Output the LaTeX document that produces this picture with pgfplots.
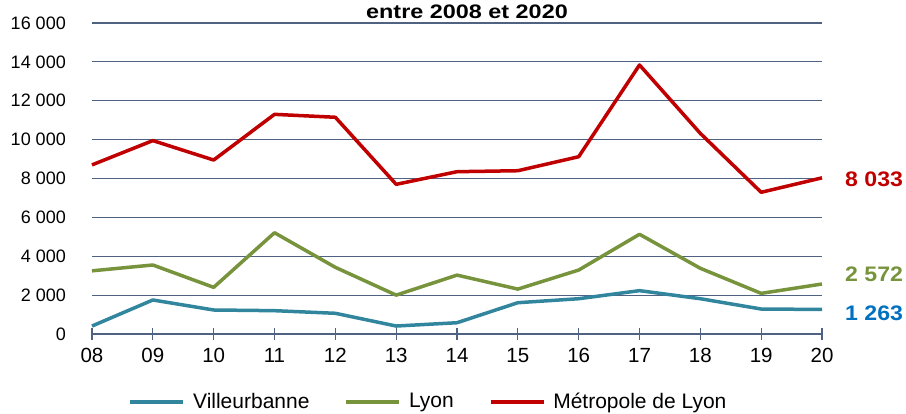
\documentclass[border=0pt]{standalone}
\usepackage{pgfplots}
\pgfplotsset{compat=1.18}
\usepackage{graphicx}
\usepackage{fontspec}
\setmainfont{Liberation Sans}
\definecolor{gridc}{RGB}{79,98,130}
\definecolor{cred}{RGB}{192,0,0}
\definecolor{cgreen}{RGB}{119,147,60}
\definecolor{cteal}{RGB}{49,133,156}
\definecolor{cblue}{RGB}{0,112,192}
\begin{document}
\fontsize{18}{21.6}\selectfont
\begin{tikzpicture}
\begin{axis}[name=ax, scale only axis, width=730pt, height=311pt,
  xmin=0, xmax=12, ymin=0, ymax=16000, clip=false,
  scaled y ticks=false,
  axis lines=left, axis line style={-},
  y axis line style={draw=none},
  x axis line style={draw=gridc, line width=1.3pt},
  ymajorgrids, grid style={gridc, line width=1.1pt},
  ytick={0,2000,4000,6000,8000,10000,12000,14000,16000},
  yticklabels={0,2 000,4 000,6 000,8 000,10 000,12 000,14 000,16 000},
  xtick={0,...,12},
  xticklabels={08,09,10,11,12,13,14,15,16,17,18,19,20},
  ytick style={draw=none},
  xtick style={draw=gridc, line width=1.1pt},
  major tick length=12pt, tick align=center,
  yticklabel style={anchor=east, inner sep=0pt, xshift=-20pt, font=\fontsize{18}{21.6}\selectfont},
  xticklabel style={anchor=north, inner sep=0pt, yshift=-8pt, font=\fontsize{20.5}{24}\selectfont},
  legend columns=3,
  legend style={at={(0.461,-0.219)}, anchor=center, draw=none, fill=none,
    font=\fontsize{21}{25}\selectfont,
    /tikz/every even column/.append style={column sep=33pt}},
  legend image code/.code={\draw[#1] (0pt,0pt) -- (53pt,0pt); \path (59pt,0pt);},
  every axis plot/.append style={line width=3.5pt, line join=round},
]
\addplot[cteal] coordinates {(0,410) (1,1750) (2,1235) (3,1200) (4,1065) (5,410) (6,580) (7,1610) (8,1815) (9,2230) (10,1815) (11,1285) (12,1263)};
\addlegendentry{Villeurbanne}
\addplot[cgreen] coordinates {(0,3250) (1,3550) (2,2400) (3,5210) (4,3430) (5,2000) (6,3030) (7,2310) (8,3290) (9,5130) (10,3380) (11,2090) (12,2572)};
\addlegendentry{Lyon}
\addplot[cred] coordinates {(0,8700) (1,9950) (2,8950) (3,11300) (4,11150) (5,7700) (6,8350) (7,8400) (8,9120) (9,13840) (10,10320) (11,7290) (12,8033)};
\addlegendentry{Métropole de Lyon}
\node[anchor=west, text=cred, font=\fontsize{21}{25}\selectfont\bfseries, inner sep=0pt] at (axis cs:12,7973) [xshift=23pt] {\scalebox{1.1}[1]{8 033}};
\node[anchor=west, text=cgreen, font=\fontsize{21}{25}\selectfont\bfseries, inner sep=0pt] at (axis cs:12,3086) [xshift=23pt] {\scalebox{1.1}[1]{2 572}};
\node[anchor=west, text=cblue, font=\fontsize{21}{25}\selectfont\bfseries, inner sep=0pt] at (axis cs:12,1080) [xshift=23pt] {\scalebox{1.1}[1]{1 263}};
\end{axis}
\node[anchor=base, font=\fontsize{19.5}{23}\selectfont\bfseries, inner sep=0pt] at ([xshift=10pt, yshift=4.7pt]ax.north) {\scalebox{1.2}[1]{entre 2008 et 2020}};
\pgfresetboundingbox
\path[use as bounding box] ([xshift=-92pt,yshift=-80pt]ax.south west) rectangle ([xshift=84pt,yshift=23pt]ax.north east);
\end{tikzpicture}
\end{document}
